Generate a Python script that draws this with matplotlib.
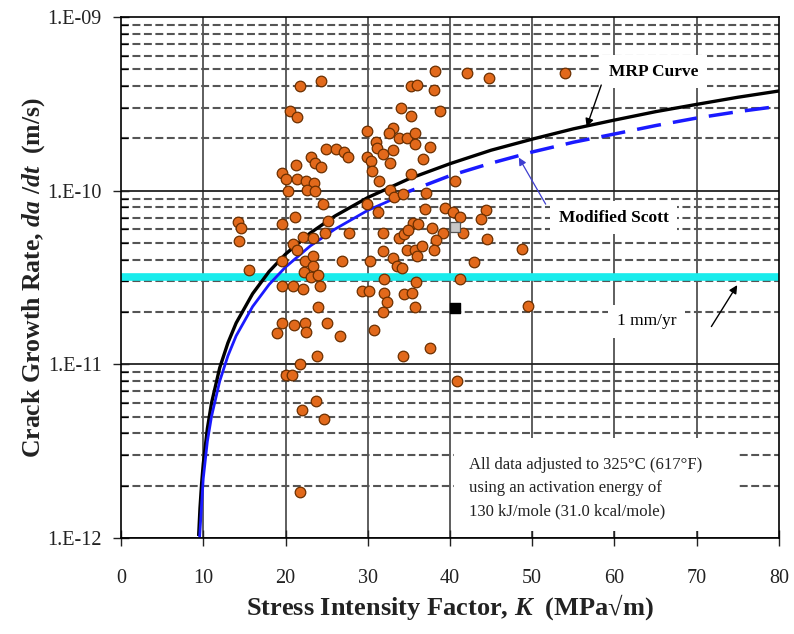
import numpy as np
import matplotlib.pyplot as plt
from matplotlib.patches import Rectangle
from matplotlib.ticker import FixedLocator, NullFormatter

plt.rcParams['font.family'] = ['Liberation Serif', 'DejaVu Serif']
plt.rcParams['mathtext.fontset'] = 'custom'
plt.rcParams['mathtext.rm'] = 'Liberation Serif:bold'
plt.rcParams['mathtext.it'] = 'Liberation Serif:italic:bold'

# ------------------------------------------------------------
# data
# ------------------------------------------------------------
k_data = [21.8, 24.3, 38.2, 42.1, 44.8, 54.0, 35.3, 36.0, 38.1, 20.6,
          21.4, 34.1, 35.2, 38.8, 29.9, 33.1, 32.6, 33.8, 34.8, 35.8,
          35.8, 31.0, 31.1, 31.8, 33.1, 37.6, 36.7, 32.7, 24.9, 26.2,
          27.1, 27.6, 23.1, 23.6, 24.3, 29.9, 30.4, 30.5, 35.3, 21.3,
          19.6, 20.0, 21.4, 20.3, 22.5, 23.5, 22.6, 23.6, 31.4, 40.6,
          32.7, 33.2, 34.3, 37.1, 24.6, 29.9, 31.3, 21.2, 19.6, 14.2,
          14.6, 14.4, 25.2, 37.0, 39.4, 40.4, 41.2, 44.4, 43.8, 35.5,
          36.1, 37.8, 39.2, 41.6, 24.8, 27.7, 31.9, 22.1, 23.4, 33.8,
          34.4, 34.9, 38.3, 44.5, 20.9, 21.4, 31.8, 34.8, 35.8, 36.6,
          36.0, 38.1, 48.8, 19.6, 22.4, 23.4, 23.4, 26.9, 30.3, 33.1,
          33.5, 34.2, 42.9, 15.6, 22.3, 23.1, 24.0, 32.0, 41.2, 35.9,
          19.6, 20.9, 22.1, 24.2, 29.3, 30.1, 32.0, 32.4, 34.4, 35.4,
          24.0, 31.8, 35.8, 49.5, 19.6, 21.0, 22.4, 22.5, 19.0, 25.1,
          30.7, 26.6, 37.6, 23.8, 34.3, 21.8, 20.0, 20.8, 23.7, 22.0,
          24.7, 21.8, 40.9]
rate_data = [4.01e-10, 4.29e-10, 4.89e-10, 4.77e-10, 4.46e-10, 4.77e-10, 4.01e-10, 4.07e-10, 3.81e-10, 2.88e-10,
             2.66e-10, 3.00e-10, 2.70e-10, 2.88e-10, 2.21e-10, 2.30e-10, 2.15e-10, 2.02e-10, 2.02e-10, 2.15e-10,
             1.86e-10, 1.91e-10, 1.77e-10, 1.63e-10, 1.72e-10, 1.79e-10, 1.53e-10, 1.45e-10, 1.74e-10, 1.74e-10,
             1.67e-10, 1.57e-10, 1.57e-10, 1.45e-10, 1.37e-10, 1.57e-10, 1.49e-10, 1.30e-10, 1.24e-10, 1.41e-10,
             1.27e-10, 1.17e-10, 1.17e-10, 1.00e-10, 1.13e-10, 1.11e-10, 1.01e-10, 1.00e-10, 1.13e-10, 1.14e-10,
             1.01e-10, 9.24e-11, 9.61e-11, 9.74e-11, 8.42e-11, 8.42e-11, 7.57e-11, 7.09e-11, 6.46e-11, 6.63e-11,
             6.13e-11, 5.16e-11, 6.72e-11, 7.88e-11, 7.98e-11, 7.57e-11, 7.09e-11, 7.78e-11, 6.90e-11, 6.55e-11,
             6.46e-11, 6.13e-11, 5.74e-11, 5.74e-11, 5.74e-11, 5.74e-11, 5.74e-11, 5.44e-11, 5.37e-11, 5.37e-11,
             5.66e-11, 5.97e-11, 5.23e-11, 5.30e-11, 4.96e-11, 4.58e-11, 4.52e-11, 4.58e-11, 4.58e-11, 4.77e-11,
             4.23e-11, 4.58e-11, 4.64e-11, 3.91e-11, 3.96e-11, 4.18e-11, 3.66e-11, 3.96e-11, 3.91e-11, 4.07e-11,
             3.66e-11, 3.61e-11, 3.86e-11, 3.47e-11, 3.38e-11, 3.20e-11, 3.25e-11, 3.08e-11, 3.12e-11, 2.96e-11,
             2.81e-11, 2.81e-11, 2.73e-11, 2.84e-11, 2.66e-11, 2.63e-11, 2.59e-11, 2.30e-11, 2.53e-11, 2.59e-11,
             2.15e-11, 1.99e-11, 2.13e-11, 2.18e-11, 1.72e-11, 1.68e-11, 1.74e-11, 1.53e-11, 1.51e-11, 1.74e-11,
             1.57e-11, 1.45e-11, 1.25e-11, 1.11e-11, 1.11e-11, 1.01e-11, 8.65e-12, 8.65e-12, 6.13e-12, 5.44e-12,
             4.83e-12, 1.84e-12, 7.98e-12]

# two odd markers near K = 40.6
gray_pt = (40.6, 6.2e-11)
black_pt = (40.6, 2.1e-11)

# MRP curve
mrp_k = [9.45, 9.6, 9.8, 10, 10.5, 11, 12, 13, 14, 16, 18, 20, 23, 26,
         30, 35, 40, 45, 50, 55, 60, 65, 70, 75, 80]
mrp_rate = [1.05e-12, 1.48e-12, 2.06e-12, 2.67e-12, 4.27e-12, 5.97e-12, 9.55e-12,
            1.33e-11, 1.73e-11, 2.55e-11, 3.42e-11, 4.31e-11, 5.70e-11, 7.14e-11,
            9.13e-11, 1.17e-10, 1.43e-10, 1.71e-10, 1.98e-10, 2.27e-10, 2.55e-10,
            2.85e-10, 3.14e-10, 3.45e-10, 3.75e-10]

# Modified Scott curve (solid lower part, dashed upper part)
scott_k_lo = [9.55, 9.7, 10, 10.5, 11, 12, 13, 14, 16, 18, 20, 23, 26, 30, 33]
scott_rate_lo = [1.0e-12, 1.3e-12, 2.2e-12, 3.6e-12, 5.0e-12, 8.0e-12, 1.12e-11,
                 1.46e-11, 2.15e-11, 2.88e-11, 3.63e-11, 4.8e-11, 6.0e-11, 7.7e-11, 8.9e-11]
scott_k_hi = [33, 35, 40, 45, 50, 55, 60, 65, 70, 75, 79]
scott_rate_hi = [8.9e-11, 9.9e-11, 1.22e-10, 1.44e-10, 1.67e-10, 1.90e-10, 2.12e-10,
                 2.37e-10, 2.62e-10, 2.85e-10, 3.02e-10]

one_mm_per_yr = 3.17e-11

y_ticks = [1e-12, 1e-11, 1e-10, 1e-9]
y_ticklabels = ['1.E-12', '1.E-11', '1.E-10', '1.E-09']

# ------------------------------------------------------------
fig = plt.figure(figsize=(7.94, 6.34), dpi=100)
ax = fig.add_axes([0.1524, 0.1514, 0.8287, 0.8218])
ax.set_yscale('log')
ax.set_xlim(0, 80)
ax.set_ylim(1e-12, 1e-9)

# grid
for xv in range(10, 80, 10):
    ax.axvline(xv, color='#333333', lw=1.1, zorder=1)
for dec in [1e-12, 1e-11, 1e-10]:
    ax.axhline(dec, color='#222222', lw=1.3, zorder=1)
    for m in range(2, 10):
        ax.axhline(m * dec, color='#555555', lw=1.5, dashes=(3.8, 1.7), zorder=1)

# 1 mm/yr line
ax.axhline(one_mm_per_yr, color='#19ecec', lw=5.5, zorder=2)

# curves
ax.plot(mrp_k, mrp_rate, color='black', lw=2.4, zorder=3)
ax.plot(scott_k_lo, scott_rate_lo, color='#1a1aff', lw=2.0, zorder=3)
ax.plot(scott_k_hi, scott_rate_hi, color='#1a1aff', lw=2.5, dashes=(7, 3.5), zorder=3)

# data
ax.scatter(k_data, rate_data, s=58, color='#e2691b', edgecolors='#6b2f00',
           linewidths=0.9, zorder=5)
ax.scatter([gray_pt[0]], [gray_pt[1]], s=55, marker='s', color='#c8c8c8',
           edgecolors='#555555', linewidths=0.9, zorder=5)
ax.scatter([black_pt[0]], [black_pt[1]], s=50, marker='s', color='black', zorder=5)

# annotations
box = dict(facecolor='white', edgecolor='none', pad=6)
ax.text(64.8, 4.85e-10, 'MRP Curve', fontsize=12.5, fontweight='bold',
        ha='center', va='center', bbox=box, zorder=6)
ax.annotate('', xy=(56.5, 2.25e-10), xytext=(58.5, 4.2e-10),
            arrowprops=dict(arrowstyle='-|>', color='black', lw=1.0,
                            mutation_scale=12), zorder=7)
ax.text(59.9, 7.0e-11, 'Modified Scott', fontsize=12.5, fontweight='bold',
        ha='center', va='center', bbox=box, zorder=6)
ax.annotate('', xy=(48.2, 1.6e-10), xytext=(51.8, 8.1e-11),
            arrowprops=dict(arrowstyle='-|>', color='#3f3fd0', lw=0.9,
                            mutation_scale=11), zorder=7)
ax.text(63.9, 1.77e-11, '1 mm/yr', fontsize=12.5, ha='center', va='center',
        bbox=box, zorder=6)
ax.annotate('', xy=(75.1, 2.95e-11), xytext=(71.6, 1.6e-11),
            arrowprops=dict(arrowstyle='-|>', color='black', lw=1.0,
                            mutation_scale=12), zorder=7)
ax.add_patch(Rectangle((40.5, 1.1e-12), 34.6, 3.75e-12 - 1.1e-12,
                       facecolor='white', edgecolor='none', zorder=4))
ax.text(42.3, 1.94e-12,
        'All data adjusted to 325\u00b0C (617\u00b0F)\nusing an activation energy of\n'
        '130 kJ/mole (31.0 kcal/mole)',
        fontsize=12, ha='left', va='center', linespacing=1.6, color='#222222',
        zorder=6)

# axes, ticks, labels
for sp in ax.spines.values():
    sp.set_color('black')
    sp.set_linewidth(1.2)
    sp.set_zorder(8)

ax.set_xticks(range(0, 81, 10))
ax.tick_params(axis='x', direction='inout', length=11, width=1.0,
               labelsize=14.5, pad=17, colors='#222222')
ax.yaxis.set_major_locator(FixedLocator(y_ticks))
ax.set_yticklabels(y_ticklabels)
ax.yaxis.set_minor_locator(FixedLocator([m * d for d in [1e-12, 1e-11, 1e-10]
                                         for m in range(2, 10)]))
ax.yaxis.set_minor_formatter(NullFormatter())
ax.tick_params(axis='y', which='major', direction='inout', length=12, width=1.0,
               labelsize=14.5, pad=8, colors='#222222')
ax.tick_params(axis='y', which='minor', direction='in', length=5, width=0.9)

ax.set_xlabel('Stress Intensity Factor, $K$  (MPa\u221am)', fontsize=19,
              fontweight='bold', color='#222222', labelpad=3)
ax.set_ylabel('Crack Growth Rate, $da\\ /dt$  (m/s)', fontsize=18.5,
              fontweight='bold', color='#222222')
ax.yaxis.set_label_coords(-0.112, 0.5)

fig.savefig('out.png', dpi=100)
